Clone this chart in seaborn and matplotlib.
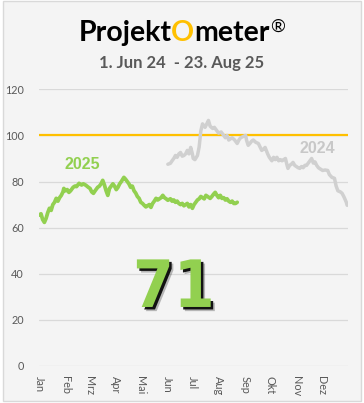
import matplotlib
matplotlib.use("Agg")
import matplotlib.pyplot as plt
import seaborn as sns
import pandas as pd
from matplotlib import patheffects as pe
from matplotlib.patches import Rectangle

# ---------------- data ----------------
months = ["Jan", "Feb", "Mrz", "Apr", "Mai", "Jun", "Jul", "Aug", "Sep", "Okt", "Nov", "Dez"]
month_start_days = [0, 31, 59, 90, 120, 151, 181, 212, 243, 273, 304, 334]
y_ticks = [0, 20, 40, 60, 80, 100, 120]
target_value = 100
current_value = 71
title_parts = ["Projekt", "O", "meter", "®"]
subtitle = "1. Jun 24  - 23. Aug 25"

days_2025 = [0, 2, 4, 6, 8, 10, 12, 14, 16, 18, 20, 22, 24, 26, 28, 29, 31, 33, 35, 37,
             40, 42, 44, 47, 50, 52, 55, 58, 60, 62, 64, 66, 69, 71, 73, 75, 77, 79, 81, 83,
             85, 87, 89, 91, 93, 95, 97, 100, 102, 104, 106, 108, 110, 112, 114, 116, 118, 120,
             122, 124, 126, 128, 130, 132, 134, 136, 138, 140, 142, 144, 146, 148, 150, 152,
             155, 157, 159, 161, 163, 165, 167, 169, 171, 173, 175, 177, 179, 181, 183, 185,
             187, 189, 191, 193, 195, 197, 199, 202, 204, 206, 208, 210, 212, 214, 216, 218,
             220, 222, 224, 226, 228, 230, 232, 234]
vals_2025 = [65.5, 66, 63.5, 62.3, 64, 66.5, 68.4, 67.5, 70, 71, 72.7, 71.5, 73, 74, 75.5, 77, 76, 76.5, 75.3, 76,
             77.5, 78, 77.8, 79.2, 78.5, 79, 78.4, 77.5, 77, 75.5, 74.9, 76, 77.5, 78, 79, 80.5, 78.5, 76, 74, 77,
             78, 79, 78, 76.5, 77.5, 79, 80, 81.8, 81, 80, 79, 77.5, 78, 76, 75, 73.5, 72.7, 71,
             70.5, 69.7, 69, 69.5, 70, 68.8, 70.5, 71.5, 72.7, 72, 72.5, 73, 74, 73, 72.5, 71.9,
             72.5, 71.5, 72, 71, 71.5, 70.5, 70, 70.5, 69.5, 70, 70.5, 69, 70, 68.4, 70, 71,
             72, 72.5, 73.5, 73, 72.5, 74, 73.5, 72.7, 73.5, 74.5, 75.3, 74, 73, 74, 72.7, 73,
             72, 72.5, 71.5, 71, 71.5, 70.5, 70.5, 71]

days_2024 = [152, 155, 157, 159, 161, 163, 165, 167, 169, 171, 173, 175, 177, 179, 181, 182, 184, 187,
             189, 191, 193, 195, 196, 198, 200, 202, 205, 207, 210, 212, 215, 218, 220, 222, 224, 226,
             228, 231, 234, 236, 238, 241, 244, 245, 247, 249, 251, 253, 256, 259, 261, 263, 265, 267,
             270, 272, 275, 277, 279, 281, 283, 285, 287, 289, 291, 293, 294, 296, 298, 300, 302, 304,
             306, 308, 310, 312, 314, 316, 318, 320, 322, 324, 326, 328, 330, 332, 335, 338, 341, 343,
             346, 349, 351, 353, 356, 358, 360, 361, 363, 364]
vals_2024 = [87.5, 87.9, 89, 90, 91.3, 90.5, 92, 92.6, 91, 91.3, 92, 93.5, 92, 94.8, 92, 90, 89.5, 91.3,
             95, 102, 105, 104, 103.5, 105, 106.5, 104, 103, 103.5, 102, 101, 101.5, 100, 99, 100, 98, 98.5,
             99, 98, 96.5, 98, 99, 99.5, 100, 98, 95.7, 96.5, 97.5, 98, 97, 96.5, 95, 93.5, 94, 94.8,
             92, 90.5, 89, 90.5, 89.5, 90.5, 89, 89.5, 89, 89.5, 90, 87, 85.7, 87, 87.5, 88.3, 87, 86.5,
             86, 85.7, 86.5, 86, 87, 87, 88, 89, 90, 88, 88.5, 87, 86, 85.5, 84.8, 85, 84.8, 83,
             81.8, 81.4, 78, 76, 75.5, 74.9, 73.5, 72.7, 71, 69.7]

df25 = pd.DataFrame({"day": days_2025, "value": vals_2025})
df24 = pd.DataFrame({"day": days_2024, "value": vals_2024})

# ---------------- style ----------------
BG = "#f4f4f4"
GREEN = "#92d050"
GREY_LINE = "#d0d0d0"
GOLD = "#ffc000"
TXT = "#595959"

sns.set_style("white")
plt.rcParams["font.family"] = ["Lato", "DejaVu Sans"]

W, H = 364, 403
fig = plt.figure(figsize=(W / 100, H / 100), dpi=100, facecolor="white")
fig.patches.append(Rectangle((2.5 / W, 2.5 / H), (361 - 2.5) / W, (H - 3.5) / H,
                             transform=fig.transFigure, facecolor=BG,
                             edgecolor="#d9d9d9", linewidth=1.0, zorder=-10))

x0, x1 = 39.3, 348.0
y_top, y_bot = 89.3, 366.0
ax = fig.add_axes([x0 / W, 1 - y_bot / H, (x1 - x0) / W, (y_bot - y_top) / H])
ax.set_facecolor("none")

ax.axhline(target_value, color=GOLD, lw=1.6, zorder=2)
sns.lineplot(data=df24, x="day", y="value", ax=ax, color=GREY_LINE, lw=2.5, zorder=3)
sns.lineplot(data=df25, x="day", y="value", ax=ax, color=GREEN, lw=2.7, zorder=4)

ax.set_xlim(0, 365)
ax.set_ylim(0, 120)
ax.set_yticks(y_ticks)
ax.set_yticklabels([str(v) for v in y_ticks])
ax.set_xticks(month_start_days)
ax.set_xticklabels(months, rotation=270, va="top", ha="center")
ax.tick_params(axis="y", length=0, pad=11, labelsize=7.8, labelcolor=TXT)
ax.tick_params(axis="x", length=0, pad=7, labelsize=7.8, labelcolor=TXT)
ax.grid(axis="y", color="#d9d9d9", lw=0.9, zorder=0)
ax.grid(axis="x", visible=False)
for s in ax.spines.values():
    s.set_visible(False)
ax.set_xlabel("")
ax.set_ylabel("")

ax.text(51, 85.4, "2025", color=GREEN, fontsize=11.5, fontweight="bold",
        family=["Liberation Sans"], ha="center", va="baseline", zorder=5)
ax.text(329, 92.4, "2024", color="#c8c8c8", fontsize=11.5, fontweight="bold",
        family=["Liberation Sans"], ha="center", va="baseline", zorder=5)

big = ax.text(159, 25.6, str(current_value), color=GREEN, fontsize=47, fontweight="bold",
              family=["DejaVu Sans"], fontstretch="condensed",
              ha="center", va="baseline", zorder=6)
big.set_path_effects([
    pe.SimplePatchShadow(offset=(3.0, -3.0), shadow_rgbFace="black", alpha=0.25),
    pe.SimplePatchShadow(offset=(1.8, -1.8), shadow_rgbFace="black", alpha=0.9),
    pe.Normal(),
])

# ---------------- title ----------------
base_y = 1 - 40.7 / H
colors = ["black", GOLD, "black"]
texts = [fig.text(0, base_y, p, color=c, fontsize=20.5, fontweight="bold",
                  ha="left", va="baseline") for p, c in zip(title_parts[:3], colors)]
reg = fig.text(0, 1 - 19 / H, title_parts[3], color="black", fontsize=13,
               ha="left", va="top")
fig.canvas.draw()
r = fig.canvas.get_renderer()
widths = [t.get_window_extent(r).width for t in texts] + [reg.get_window_extent(r).width]
total = sum(widths)
cur = 181.5 - total / 2
for t, w in zip(texts + [reg], widths):
    t.set_x(cur / W)
    cur += w

fig.text(181.5 / W, 1 - 67.7 / H, subtitle, color=TXT, fontsize=12, fontweight="bold",
         ha="center", va="baseline")

fig.savefig("out.png", dpi=100, facecolor="white")
